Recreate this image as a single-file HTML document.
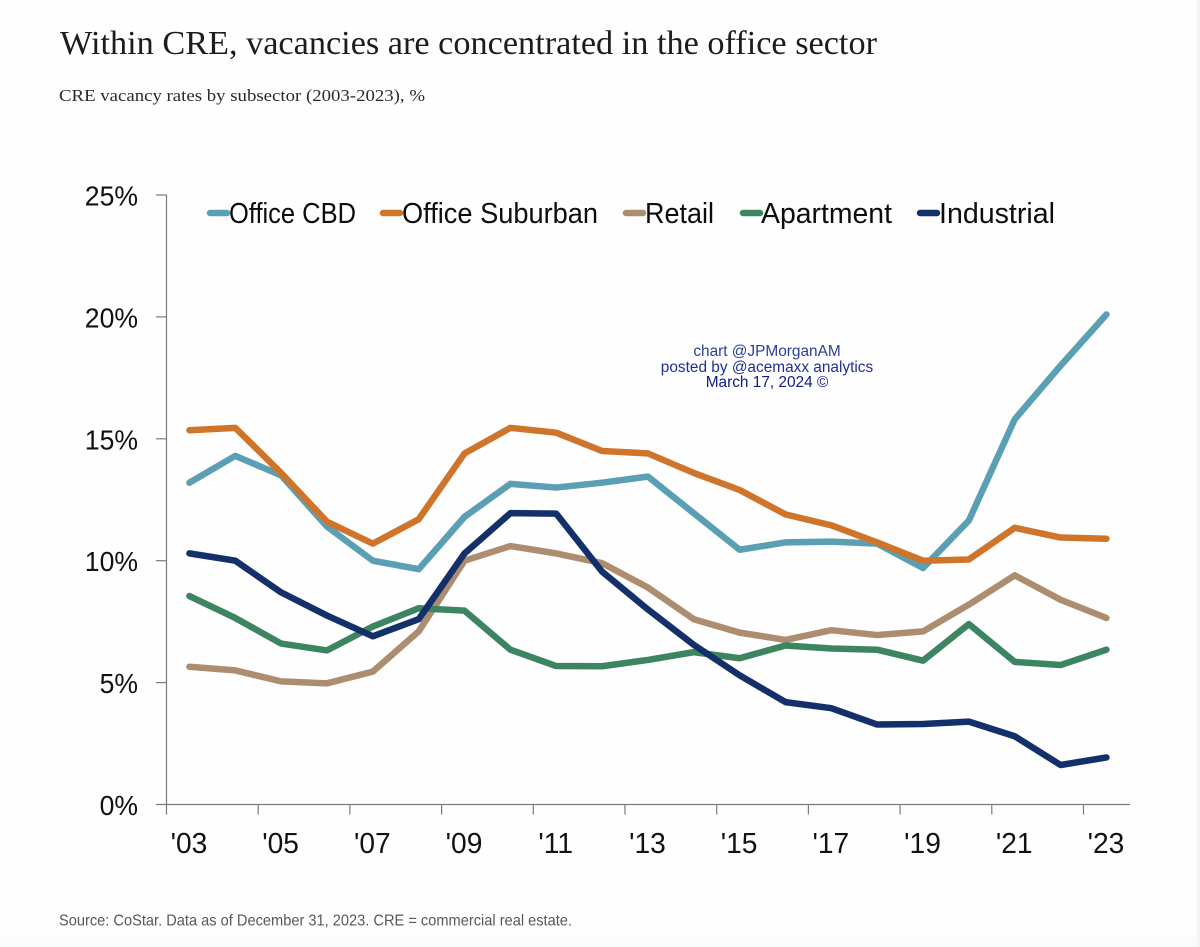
<!DOCTYPE html>
<html lang="en">
<head>
<meta charset="utf-8">
<title>CRE vacancy rates by subsector</title>
<style>
html,body{margin:0;padding:0;background:#fefefe;}
body{width:1200px;height:947px;overflow:hidden;position:relative;}
svg{display:block;position:absolute;left:0;top:0;}
</style>
</head>
<body>
<svg id="chart" width="1200" height="947" viewBox="0 0 1200 947" xmlns="http://www.w3.org/2000/svg">
  <rect x="0" y="935" width="1200" height="12" fill="#fbfbfb"/>
  <rect x="1197" y="0" width="3" height="947" fill="#f3f3f3"/>
  <text x="60" y="54" font-family="'Liberation Serif',serif" font-size="34" fill="#1c1c1c" textLength="817" lengthAdjust="spacingAndGlyphs">Within CRE, vacancies are concentrated in the office sector</text>
  <text x="59" y="101" font-family="'Liberation Serif',serif" font-size="17" fill="#2a2a2a" textLength="366" lengthAdjust="spacingAndGlyphs">CRE vacancy rates by subsector (2003-2023), %</text>
  <g id="axes"></g>
  <g id="series"></g>
  <g id="legend"></g>
  <g font-family="'Liberation Sans',sans-serif" font-size="15.4" text-anchor="middle">
    <text x="767" y="356" fill="#2a3f9c">chart @JPMorganAM</text>
    <text x="767" y="372" fill="#1f2f96">posted by @acemaxx analytics</text>
    <text x="767" y="387" fill="#101a88">March 17, 2024 ©</text>
  </g>
  <text x="59" y="925.5" font-family="'Liberation Sans',sans-serif" font-size="16" fill="#55595c" textLength="513" lengthAdjust="spacingAndGlyphs">Source: CoStar. Data as of December 31, 2023. CRE = commercial real estate.</text>
</svg>
<script>
const years = [2003,2004,2005,2006,2007,2008,2009,2010,2011,2012,2013,2014,2015,2016,2017,2018,2019,2020,2021,2022,2023];
const officeCbd = [13.2,14.3,13.5,11.4,10.0,9.65,11.8,13.15,13.0,13.2,13.45,11.95,10.45,10.75,10.78,10.7,9.7,11.65,15.8,18.0,20.1];
const officeSuburban = [15.35,15.45,13.6,11.6,10.7,11.7,14.4,15.45,15.25,14.5,14.4,13.6,12.9,11.9,11.45,10.75,10.0,10.05,11.35,10.95,10.9];
const retail = [5.65,5.5,5.05,4.97,5.45,7.1,10.0,10.6,10.3,9.9,8.9,7.6,7.05,6.75,7.15,6.95,7.1,8.2,9.4,8.4,7.65];
const apartment = [8.55,7.65,6.6,6.32,7.3,8.05,7.95,6.35,5.68,5.67,5.93,6.25,6.0,6.52,6.4,6.35,5.9,7.4,5.85,5.72,6.35];
const industrial = [10.3,10.0,8.7,7.75,6.9,7.6,10.3,11.95,11.93,9.55,8.0,6.55,5.3,4.2,3.95,3.28,3.3,3.4,2.8,1.62,1.93];
const yTicks = [0,5,10,15,20,25];
const xTickLabels = ["'03","'05","'07","'09","'11","'13","'15","'17","'19","'21","'23"];

const NS = 'http://www.w3.org/2000/svg';
const plot = {left:166.5, right:1130, top:195, bottom:804.5, step:45.85};
function xScale(i){ return plot.left + plot.step*(i+0.5); }
function yScale(v){ return plot.bottom - (v/25)*(plot.bottom-plot.top); }
function mk(tag, attrs, parent, text){
  const el = document.createElementNS(NS, tag);
  for (const k in attrs) el.setAttribute(k, attrs[k]);
  if (text !== undefined) el.textContent = text;
  parent.appendChild(el);
  return el;
}
function narrow(el, factor){
  const w = el.getComputedTextLength();
  el.setAttribute('textLength', (w*factor).toFixed(1));
  el.setAttribute('lengthAdjust', 'spacingAndGlyphs');
}

const axes = document.getElementById('axes');
const axisColor = '#7b7b7b';
const yAxisLine = mk('line',{x1:plot.left,x2:plot.left,y1:plot.top,y2:plot.bottom,stroke:axisColor,'stroke-width':1.2},axes);


const xAxisLine = mk('line',{x1:156,x2:plot.right,y1:plot.bottom,y2:plot.bottom,stroke:axisColor,'stroke-width':1.2},axes);



yTicks.forEach(function(v){
  const y = yScale(v);
  if (v > 0) {
    const t = mk('line',{x1:156,x2:plot.left,y1:y,y2:y,stroke:axisColor,'stroke-width':1.2},axes);
    
    
  }
  const label = mk('text',{x:138,y:y+10.5,'text-anchor':'end','font-family':"'Liberation Sans',sans-serif",'font-size':28,fill:'#111'},axes,v+'%');
  
  
  narrow(label, 0.95);
});

xTickLabels.forEach(function(s,n){
  const i = n*2;
  const tx = plot.left + plot.step*i;
  const t = mk('line',{x1:tx,x2:tx,y1:plot.bottom,y2:plot.bottom+10,stroke:axisColor,'stroke-width':1.2},axes);
  
  
  const label = mk('text',{x:xScale(i)-0.5,y:853,'text-anchor':'middle','font-family':"'Liberation Sans',sans-serif",'font-size':29,fill:'#111'},axes,s);
  
  
  narrow(label, 0.97);
});

const seriesGroup = document.getElementById('series');
const seriesStyles = [
  {values:officeCbd, color:'#5a9fb4'},
  {values:officeSuburban, color:'#cf752b'},
  {values:retail, color:'#ad8d70'},
  {values:apartment, color:'#3d8560'},
  {values:industrial, color:'#13306a'}
];
seriesStyles.forEach(function(s){
  const pts = s.values.map(function(v,i){ return xScale(i).toFixed(2)+','+yScale(v).toFixed(2); }).join(' ');
  const line = mk('polyline',{points:pts,fill:'none',stroke:s.color,'stroke-width':6.5,'stroke-linecap':'round','stroke-linejoin':'round'},seriesGroup);
  
  
});

const legendGroup = document.getElementById('legend');
const legendNames = ['Office CBD','Office Suburban','Retail','Apartment','Industrial'];
const legendColors = ['#5a9fb4','#cf752b','#ad8d70','#3d8560','#13306a'];
const legendStarts = [210,383,626,743,920];
const legendWidths = [127,196,69,131,116];
legendNames.forEach(function(name,i){
  const sw = mk('line',{x1:legendStarts[i],x2:legendStarts[i]+17,y1:213,y2:213,stroke:legendColors[i],'stroke-width':6.5,'stroke-linecap':'round'},legendGroup);
  
  
  const label = mk('text',{x:[229,402,645,761,939][i],y:223,'font-family':"'Liberation Sans',sans-serif",'font-size':29,fill:'#0c0c0c',textLength:legendWidths[i],lengthAdjust:'spacingAndGlyphs'},legendGroup,name);
  
  
});
</script>
</body>
</html>
